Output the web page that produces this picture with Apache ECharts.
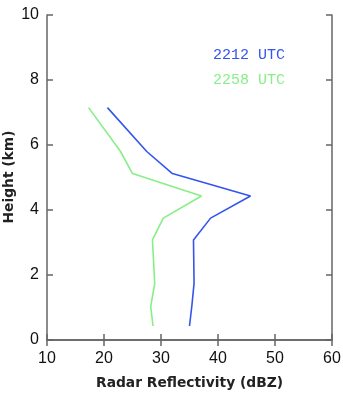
<!DOCTYPE html>
<html><head><meta charset="utf-8">
<script src="https://cdn.jsdelivr.net/npm/echarts@6/dist/echarts.min.js"></script>
<style>html,body{margin:0;padding:0;background:#fff}#c{width:343px;height:393px}</style>
</head><body><div id="c"></div>
<script>
const heights = [7.15, 5.8, 5.12, 4.43, 3.75, 3.08, 1.74, 1.03, 0.43];
const refl2212 = [20.6, 27.5, 32.0, 45.7, 38.7, 35.7, 35.8, 35.4, 35.0];
const refl2258 = [17.3, 22.9, 25.0, 37.1, 30.4, 28.5, 28.9, 28.2, 28.6];
const seriesNames = ['2212 UTC', '2258 UTC'];
const seriesColors = ['#3355ee', '#88ee88'];
const xTitle = 'Radar Reflectivity (dBZ)';
const yTitle = 'Height (km)';

const pairs = (xs) => xs.map((v, i) => [v, heights[i]]);
const axisCol = '#666';
const chart = echarts.init(document.getElementById('c'));
chart.setOption({
  animation: false,
  grid: {left: 47, right: 11, top: 15, bottom: 53, outerBoundsMode: 'none', containLabel: false},
  legend: {
    orient: 'vertical', left: 202, top: 43, itemWidth: 0, itemHeight: 0, itemGap: 10,
    selectedMode: false,
    textStyle: {fontFamily: 'Liberation Mono', fontSize: 15},
    data: seriesNames.map((n, i) => ({name: n, textStyle: {color: seriesColors[i]}}))
  },
  graphic: [{
    type: 'text', x: 9, y: 177, rotation: Math.PI / 2,
    style: {text: yTitle, fontFamily: 'DejaVu Sans', fontWeight: 'bold', fontSize: 13.8,
            fill: '#222', align: 'center', verticalAlign: 'middle'}
  }],
  xAxis: [{
    type: 'value', min: 10, max: 60, interval: 10,
    name: xTitle, nameLocation: 'middle', nameGap: 36,
    nameTextStyle: {fontFamily: 'DejaVu Sans', fontWeight: 'bold', fontSize: 13.8, color: '#222'},
    axisLine: {lineStyle: {color: axisCol, width: 1.5}},
    axisTick: {inside: true, length: 6, lineStyle: {color: axisCol, width: 1.5}},
    axisLabel: {fontFamily: 'Liberation Sans', fontSize: 16, color: '#111', margin: 11},
    splitLine: {show: false}
  }, {
    type: 'value', min: 10, max: 60, interval: 10, position: 'top',
    axisLine: {lineStyle: {color: axisCol, width: 1.5}},
    axisTick: {inside: true, length: 6, lineStyle: {color: axisCol, width: 1.5}},
    axisLabel: {show: false}, splitLine: {show: false}
  }],
  yAxis: [{
    type: 'value', min: 0, max: 10, interval: 2,
    axisLine: {show: true, lineStyle: {color: axisCol, width: 1.5}},
    axisTick: {show: true, inside: true, length: 6, lineStyle: {color: axisCol, width: 1.5}},
    axisLabel: {fontFamily: 'Liberation Sans', fontSize: 16, color: '#111', margin: 8},
    splitLine: {show: false}
  }, {
    type: 'value', min: 0, max: 10, interval: 2, position: 'right',
    axisLine: {show: true, lineStyle: {color: axisCol, width: 1.5}},
    axisTick: {show: true, inside: true, length: 6, lineStyle: {color: axisCol, width: 1.5}},
    axisLabel: {show: false}, splitLine: {show: false}
  }],
  series: [
    {name: seriesNames[0], type: 'line', data: pairs(refl2212), symbol: 'none',
     lineStyle: {color: seriesColors[0], width: 1.6}, itemStyle: {color: seriesColors[0]}},
    {name: seriesNames[1], type: 'line', data: pairs(refl2258), symbol: 'none',
     lineStyle: {color: seriesColors[1], width: 1.6}, itemStyle: {color: seriesColors[1]}}
  ]
});
</script></body></html>
